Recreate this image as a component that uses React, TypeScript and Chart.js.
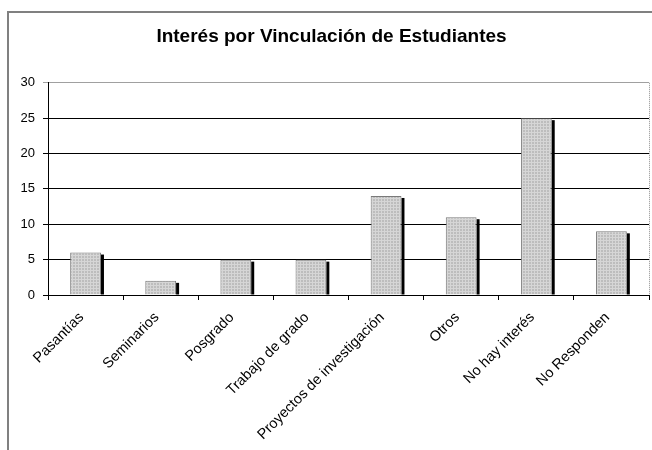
import React, { useEffect, useRef } from "react";
import { Chart, registerables } from "chart.js";

Chart.register(...registerables);

const titleText = "Interés por Vinculación de Estudiantes";
const categories = [
  "Pasantías",
  "Seminarios",
  "Posgrado",
  "Trabajo de grado",
  "Proyectos de investigación",
  "Otros",
  "No hay interés",
  "No Responden",
];
const values = [6, 2, 5, 5, 14, 11, 25, 9];
const yTicks = [0, 5, 10, 15, 20, 25, 30];

function makePattern(): CanvasPattern | string {
  const c = document.createElement("canvas");
  c.width = 3;
  c.height = 3;
  const g = c.getContext("2d");
  if (!g) return "#c4c4c4";
  g.fillStyle = "#bdbdbd";
  g.fillRect(0, 0, 3, 3);
  g.fillStyle = "#d6d6d6";
  g.fillRect(0, 0, 1, 3);
  g.fillRect(0, 0, 3, 1);
  const p = g.createPattern(c, "repeat");
  return p || "#c4c4c4";
}

const decorPlugin = {
  id: "decor",
  beforeDraw(chart: any) {
    const ctx = chart.ctx;
    ctx.save();
    ctx.fillStyle = "#ffffff";
    ctx.fillRect(0, 0, chart.width, chart.height);
    ctx.strokeStyle = "#808080";
    ctx.lineWidth = 2;
    ctx.strokeRect(8, 12, chart.width + 20, chart.height + 20);
    ctx.restore();
  },
  beforeDatasetsDraw(chart: any) {
    const ctx = chart.ctx;
    const meta = chart.getDatasetMeta(0);
    ctx.save();
    ctx.fillStyle = "#000000";
    meta.data.forEach((el: any) => {
      const p = el.getProps(["x", "y", "base", "width"], true);
      const right = p.x + p.width / 2;
      ctx.fillRect(right, p.y + 2, 3, p.base - p.y - 2);
    });
    ctx.restore();
  },
  afterDraw(chart: any) {
    const ctx = chart.ctx;
    const a = chart.chartArea;
    ctx.save();
    ctx.strokeStyle = "#909090";
    ctx.lineWidth = 1;
    ctx.setLineDash([1, 1]);
    ctx.beginPath();
    ctx.moveTo(Math.round(a.right) + 0.5, a.top);
    ctx.lineTo(Math.round(a.right) + 0.5, a.bottom);
    ctx.stroke();
    ctx.restore();
  },
};

export default function App() {
  const ref = useRef<HTMLCanvasElement | null>(null);

  useEffect(() => {
    if (!ref.current) return;
    const chart = new Chart(ref.current, {
      type: "bar",
      data: {
        labels: categories,
        datasets: [
          {
            data: values,
            backgroundColor: makePattern() as any,
            borderColor: "#7a7a7a",
            borderWidth: 1,
            barPercentage: 0.41,
            categoryPercentage: 1,
          },
        ],
      },
      plugins: [decorPlugin],
      options: {
        responsive: false,
        animation: false,
        layout: { padding: { left: 14, right: 3, top: 0, bottom: 0 } },
        plugins: {
          legend: { display: false },
          tooltip: { enabled: false },
          title: {
            display: true,
            text: titleText,
            color: "#000000",
            font: { family: "Arial, 'Liberation Sans'", size: 19, weight: "bold" },
            padding: { top: 25, bottom: 35 },
          },
        },
        scales: {
          x: {
            offset: true,
            grid: {
              display: true,
              offset: true,
              drawOnChartArea: false,
              drawTicks: true,
              tickLength: 5,
              color: "#000000",
            },
            border: { display: true, color: "#000000", width: 1 },
            ticks: {
              color: "#000000",
              minRotation: 45,
              maxRotation: 45,
              autoSkip: false,
              padding: 9,
              labelOffset: -4,
              font: { family: "Arial, 'Liberation Sans'", size: 14.5 },
            },
            afterFit(scale: any) {
              scale.height = 155;
            },
          },
          y: {
            min: 0,
            max: 30,
            afterBuildTicks(scale: any) {
              scale.ticks = yTicks.map((v) => ({ value: v }));
            },
            grid: {
              color: (c: any) => (c.tick && c.tick.value === 30 ? "#a0a0a0" : "#000000"),
              drawTicks: true,
              tickLength: 5,
            },
            border: { display: true, color: "#000000", width: 1 },
            ticks: {
              color: "#000000",
              padding: 8,
              font: { family: "Arial, 'Liberation Sans'", size: 13 },
            },
            afterFit(scale: any) {
              scale.width = 34;
            },
          },
        },
      },
    });
    return () => chart.destroy();
  }, []);

  return (
    <div style={{ position: "absolute", left: 0, top: 0, width: 652, height: 450 }}>
      <canvas ref={ref} width={652} height={450} style={{ display: "block" }} />
    </div>
  );
}
